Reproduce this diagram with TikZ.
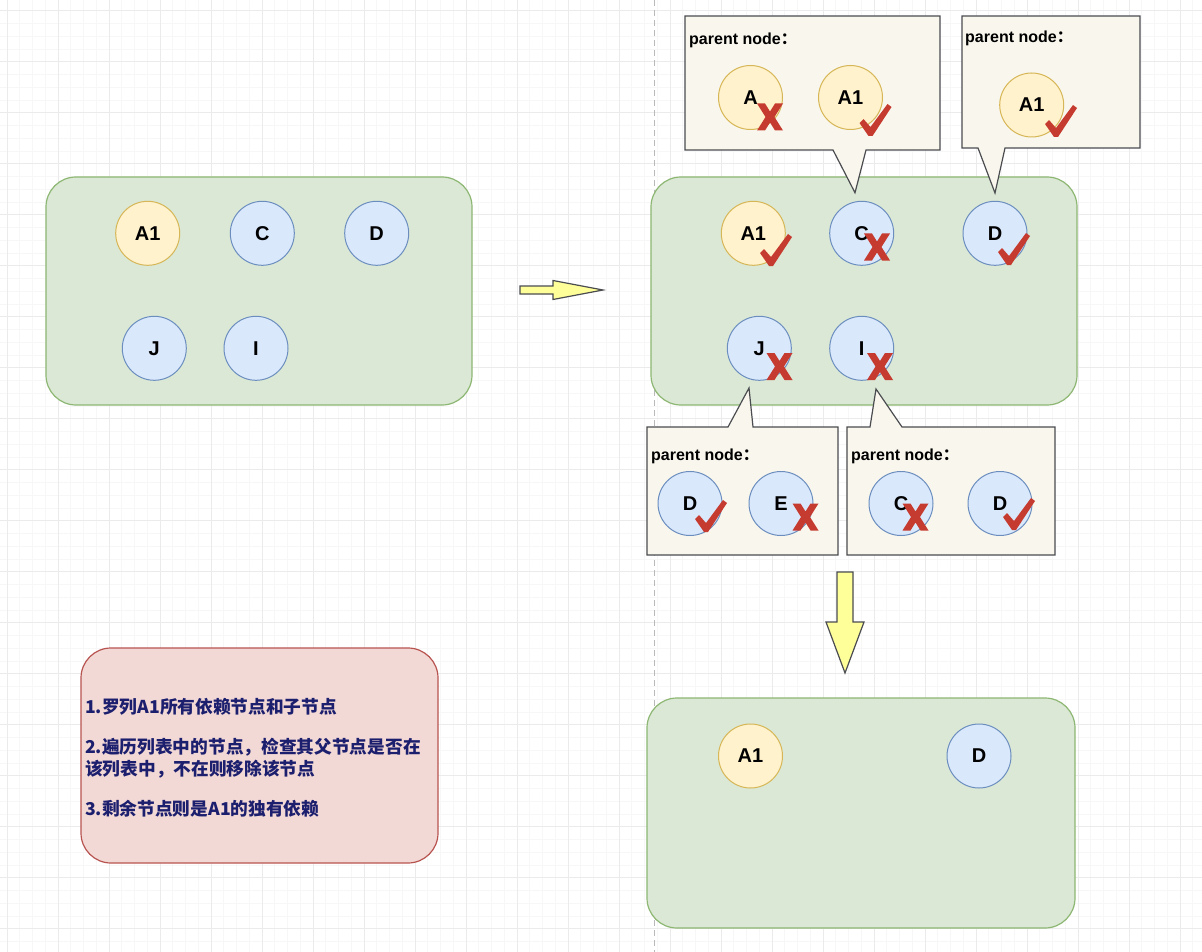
\documentclass[tikz,border=0pt]{standalone}
\usepackage{fontspec}
\setmainfont{Liberation Sans}
\newfontfamily\cjk{Noto Sans CJK SC}

\definecolor{boxgreen}{HTML}{DAE8D5}
\definecolor{boxgreenline}{HTML}{8DB773}
\definecolor{dotyellow}{HTML}{FFF2CC}
\definecolor{dotyellowline}{HTML}{D6B656}
\definecolor{dotblue}{HTML}{DAE8FC}
\definecolor{dotblueline}{HTML}{6C8EBF}
\definecolor{notepaper}{HTML}{F9F7ED}
\definecolor{noteline}{HTML}{4A4C50}
\definecolor{notepink}{HTML}{F3D9D5}
\definecolor{notepinkline}{HTML}{B85450}
\definecolor{arrowfill}{HTML}{FFFF99}
\definecolor{markred}{HTML}{C63B2F}
\definecolor{stepnavy}{HTML}{1C1F6E}
\definecolor{gridminor}{HTML}{F7F7F7}
\definecolor{gridmajor}{HTML}{EBEBEB}

\tikzset{
  groupbox/.style={draw=boxgreenline, fill=boxgreen, line width=1.2, rounded corners=30, inner sep=0},
  yellowdot/.style={circle, draw=dotyellowline, fill=dotyellow, line width=1, minimum size=64, inner sep=0,
    font=\bfseries\fontsize{20}{24}\selectfont},
  bluedot/.style={yellowdot, draw=dotblueline, fill=dotblue},
  callout/.style={draw=noteline, fill=notepaper, line width=1.2},
  calloutlabel/.style={anchor=west, inner sep=0, font=\bfseries\fontsize{16}{19}\selectfont},
  blockarrow/.style={draw=noteline, fill=arrowfill, line width=1.2, line join=miter}
}

\newcommand{\drawtick}[1]{\fill [markred, shift={#1}] (-16,3) -- (-12,-1) -- (-5,7) -- (12,-16) -- (16,-13)
  -- (-3,16) -- (-7,16) -- cycle;}
\newcommand{\drawcross}[1]{\fill [markred, shift={#1}] (-13,-13.5) -- (-5,-13.5) -- (0,-5.5) -- (5,-13.5)
  -- (13,-13.5) -- (4.5,0) -- (13,13.5) -- (5,13.5) -- (0,5.5) -- (-5,13.5) -- (-13,13.5) -- (-4.5,0) -- cycle;}
\newcommand{\parentnode}{parent node{\cjk\bfseries ：}}

\begin{document}
\begin{tikzpicture}[x=1pt,y=-1pt]

\useasboundingbox (0,0) rectangle (1202,952);
\path [fill=white] (0,0) rectangle (1202,952);

%%%%%%%%%%%%%%%%%%%%%%%%%%%%%%%%%%%%%%%%%%%%%%%%%%%%%%%%%%%%%%%%%%%%%%%%%%%%%%%%%%%
% background grid
\foreach \k in {0,...,93} \draw [gridminor, line width=0.7] ({7+12.75*\k},0) -- ({7+12.75*\k},952);
\foreach \k in {0,...,73} \draw [gridminor, line width=0.7] (0,{10.7+12.75*\k}) -- (1202,{10.7+12.75*\k});
\foreach \k in {0,...,23} \draw [gridmajor, line width=1] ({7+51*\k},0) -- ({7+51*\k},952);
\foreach \k in {0,...,18} \draw [gridmajor, line width=1] (0,{10.7+51*\k}) -- (1202,{10.7+51*\k});

\draw [gray!55, line width=1, dash pattern=on 6pt off 4pt] (654,0) -- (654,952);

%%%%%%%%%%%%%%%%%%%%%%%%%%%%%%%%%%%%%%%%%%%%%%%%%%%%%%%%%%%%%%%%%%%%%%%%%%%%%%%%%%%
% all nodes of the list
\node (list) at (259,291) [groupbox, minimum width=426, minimum height=228] {};
\node (lA1) at (147.7,233.3) [yellowdot] {A1};
\node (lC) at (262.3,233.3) [bluedot] {C};
\node (lD) at (376.7,233.3) [bluedot] {D};
\node (lJ) at (154.3,348.3) [bluedot] {J};
\node (lI) at (256,348.3) [bluedot] {I};

\draw [blockarrow] (520,286) -- (553,286) -- (553,280.5) -- (603,290) -- (553,299.5) -- (553,294)
  -- (520,294) -- cycle;

%%%%%%%%%%%%%%%%%%%%%%%%%%%%%%%%%%%%%%%%%%%%%%%%%%%%%%%%%%%%%%%%%%%%%%%%%%%%%%%%%%%
% checking every node
\node (check) at (864,291) [groupbox, minimum width=426, minimum height=228] {};
\node (mA1) at (753.3,233.3) [yellowdot] {A1};
\node (mC) at (861.7,233.3) [bluedot] {C};
\node (mD) at (995,233.3) [bluedot] {D};
\node (mJ) at (759.3,348.3) [bluedot] {J};
\node (mI) at (861.7,348.3) [bluedot] {I};

% parents of C
\draw [callout] (685,16) -- (940,16) -- (940,150) -- (866,150) -- (855,192.7) -- (833,150) -- (685,150) -- cycle;
\node (pC) at (689,40) [calloutlabel] {\parentnode};
\node (pCA) at (750.5,97.5) [yellowdot] {A};
\node (pCA1) at (850.5,97.5) [yellowdot] {A1};

% parents of D
\draw [callout] (962,16) -- (1140,16) -- (1140,148) -- (1005,148) -- (995,193) -- (978,148) -- (962,148) -- cycle;
\node (pD) at (965,38) [calloutlabel] {\parentnode};
\node (pDA1) at (1031.7,105) [yellowdot] {A1};

% parents of J
\draw [callout] (647,427) -- (728,427) -- (749,388) -- (753,427) -- (838,427) -- (838,555) -- (647,555) -- cycle;
\node (pJ) at (651,456.7) [calloutlabel] {\parentnode};
\node (pJD) at (690,503.5) [bluedot] {D};
\node (pJE) at (781,503.5) [bluedot] {E};

% parents of I
\draw [callout] (847,427) -- (870,427) -- (876,389) -- (902,427) -- (1055,427) -- (1055,555) -- (847,555) -- cycle;
\node (pI) at (851,456.7) [calloutlabel] {\parentnode};
\node (pIC) at (901,503.5) [bluedot] {C};
\node (pID) at (1000,503.5) [bluedot] {D};

% marks
\drawtick{(776,250)}
\drawcross{(877,247)}
\drawtick{(1014,249)}
\drawcross{(779.5,366.5)}
\drawcross{(880,366.5)}
\drawcross{(770,117)}
\drawtick{(875.5,120)}
\drawtick{(1061,121)}
\drawtick{(711,516)}
\drawcross{(805.5,517)}
\drawcross{(915.5,517)}
\drawtick{(1019,514)}

\draw [blockarrow] (837,572) -- (853,572) -- (853,622) -- (864,622) -- (845,673) -- (826,622) -- (837,622)
  -- cycle;

%%%%%%%%%%%%%%%%%%%%%%%%%%%%%%%%%%%%%%%%%%%%%%%%%%%%%%%%%%%%%%%%%%%%%%%%%%%%%%%%%%%
% what is left
\node (result) at (861,813) [groupbox, minimum width=428, minimum height=230] {};
\node (rA1) at (750.5,756) [yellowdot] {A1};
\node (rD) at (979,756) [bluedot] {D};

%%%%%%%%%%%%%%%%%%%%%%%%%%%%%%%%%%%%%%%%%%%%%%%%%%%%%%%%%%%%%%%%%%%%%%%%%%%%%%%%%%%
\node (note) at (259.5,755.5) [draw=notepinkline, fill=notepink, line width=1.2, rounded corners=30,
  minimum width=357, minimum height=215] {};
\node (steps) at (85,757.5) [anchor=west, inner sep=0, align=left, text=stepnavy,
  font=\cjk\bfseries\fontsize{17.7}{21.7}\selectfont]
  {1.罗列A1所有依赖节点和子节点\\[18.3pt]
   2.遍历列表中的节点，检查其父节点是否在\\
   该列表中，不在则移除该节点\\[18.3pt]
   3.剩余节点则是A1的独有依赖};

\end{tikzpicture}
\end{document}
